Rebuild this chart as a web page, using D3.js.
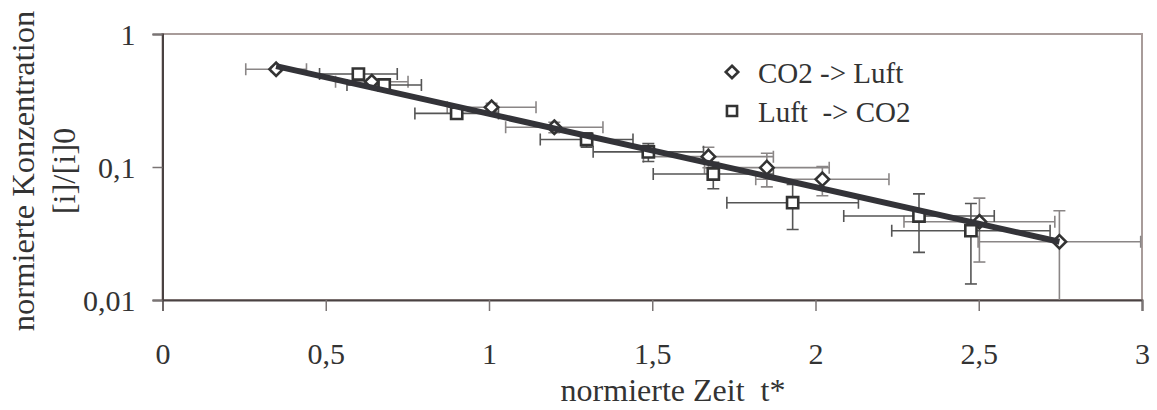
<!DOCTYPE html>
<html>
<head>
<meta charset="utf-8">
<script src="https://cdn.jsdelivr.net/npm/d3@7"></script>
<style>
  html, body { margin: 0; padding: 0; background: #fff; }
  svg { display: block; }
  text { font-family: "Liberation Serif", "Times New Roman", serif; fill: #333; }
</style>
</head>
<body>
<svg id="chart" width="1157" height="410"></svg>
<script>
// CO2 -> Luft (diamonds)
const tCO2    = [0.348, 0.641, 1.008, 1.200, 1.672, 1.851, 2.021, 2.502, 2.747];
const cCO2    = [0.543, 0.438, 0.281, 0.199, 0.1196, 0.0989, 0.0808, 0.0388, 0.0274];
const tErrCO2 = [0.093, 0.111, 0.136, 0.149, 0.199, 0.191, 0.204, 0.231, 0.249];
const cErrCO2 = [0.02, 0.02, 0.02, 0.018, 0.021, 0.028, 0.02, 0.0195, 0.0195];

// Luft -> CO2 (squares)
const tLuft    = [0.600, 0.679, 0.901, 1.299, 1.488, 1.687, 1.930, 2.317, 2.476];
const cLuft    = [0.500, 0.414, 0.253, 0.161, 0.130, 0.0886, 0.0539, 0.0428, 0.0332];
const tErrLuft = [0.119, 0.114, 0.128, 0.142, 0.169, 0.184, 0.2015, 0.2305, 0.2425];
const cErrLuft = [0.02, 0.02, 0.02, 0.02, 0.02, 0.02, 0.02, 0.02, 0.02];

// exponential fit, drawn between its two end points
const fitT = [0.348, 2.747];
const fitC = [0.574, 0.0274];

// axis ticks
const xTicks = [0, 0.5, 1, 1.5, 2, 2.5, 3];
const xTickLabels = ["0", "0,5", "1", "1,5", "2", "2,5", "3"];
const yTicks = [1, 0.1, 0.01];
const yTickLabels = ["1", "0,1", "0,01"];

const legendLabels = ["CO2 -> Luft", "Luft  -> CO2"];
const xTitle = "normierte Zeit  t*";
const yTitle = ["normierte Konzentration", "[i]/[i]0"];

const svg = d3.select("#chart");
const L = 162.5, R = 1142, T = 34, B = 300;

const x = d3.scaleLinear().domain([0, 3]).range([L, R]);
const y = d3.scaleLog().domain([0.01, 1]).range([B, T]);

const markColor = "#333";

// plot frame
svg.append("rect")
  .attr("x", L).attr("y", T).attr("width", R - L).attr("height", B - T)
  .attr("fill", "#fff").attr("stroke", "#a89c9a").attr("stroke-width", 2);

svg.append("clipPath").attr("id", "plotClip")
  .append("rect").attr("x", L).attr("y", T).attr("width", R - L).attr("height", B - T);

// axes
const xAxis = svg.append("g").attr("transform", `translate(0,${B})`)
  .call(d3.axisBottom(x).tickValues(xTicks).tickSize(11).tickPadding(32)
    .tickFormat((d, i) => xTickLabels[i]));
const yAxis = svg.append("g").attr("transform", `translate(${L},0)`)
  .call(d3.axisLeft(y).tickValues(yTicks).tickSize(10).tickPadding(17)
    .tickFormat((d, i) => yTickLabels[i]));

[xAxis, yAxis].forEach(g => {
  g.select(".domain").attr("stroke", "#4a4242").attr("stroke-width", 2);
  g.selectAll(".tick line").attr("stroke", "#7a7474").attr("stroke-width", 1.5);
  g.selectAll(".tick text")
    .style("font-family", '"Liberation Serif", serif')
    .style("font-size", "30px").attr("fill", "#333");
});
yAxis.selectAll(".tick text").attr("dy", "0.34em");

// error bars
function errorBars(ts, cs, te, ce, color) {
  const g = svg.append("g").attr("clip-path", "url(#plotClip)")
    .attr("stroke", color).attr("stroke-width", 1.6).attr("fill", "none");
  const cap = 6;
  ts.forEach((t, i) => {
    const px = x(t), py = y(cs[i]);
    const x0 = x(t - te[i]), x1 = x(t + te[i]);
    const lo = Math.max(cs[i] - ce[i], 0.001);
    const y0 = y(cs[i] + ce[i]), y1 = y(lo);
    g.append("line").attr("x1", x0).attr("x2", x1).attr("y1", py).attr("y2", py);
    g.append("line").attr("x1", x0).attr("x2", x0).attr("y1", py - cap).attr("y2", py + cap);
    g.append("line").attr("x1", x1).attr("x2", x1).attr("y1", py - cap).attr("y2", py + cap);
    g.append("line").attr("x1", px).attr("x2", px).attr("y1", y0).attr("y2", y1);
    g.append("line").attr("x1", px - cap).attr("x2", px + cap).attr("y1", y0).attr("y2", y0);
    g.append("line").attr("x1", px - cap).attr("x2", px + cap).attr("y1", y1).attr("y2", y1);
  });
}
errorBars(tCO2, cCO2, tErrCO2, cErrCO2, "#8a8686");
errorBars(tLuft, cLuft, tErrLuft, cErrLuft, "#555");

// markers
const diamond = d3.symbol().type(d3.symbolDiamond2).size(115);
const square = d3.symbol().type(d3.symbolSquare2).size(160);

svg.append("g").selectAll("path").data(tCO2).join("path")
  .attr("d", diamond)
  .attr("transform", (d, i) => `translate(${x(d)},${y(cCO2[i])})`)
  .attr("fill", "#fff").attr("stroke", markColor).attr("stroke-width", 2.6);

svg.append("g").selectAll("path").data(tLuft).join("path")
  .attr("d", square)
  .attr("transform", (d, i) => `translate(${x(d)},${y(cLuft[i])})`)
  .attr("fill", "#fff").attr("stroke", markColor).attr("stroke-width", 2.6);

// fit line
svg.append("path")
  .datum(fitT.map((t, i) => [t, fitC[i]]))
  .attr("d", d3.line().x(d => x(d[0])).y(d => y(d[1])))
  .attr("stroke", "#333338").attr("stroke-width", 6).attr("fill", "none");

// legend
const leg = svg.append("g");
const legY = [72, 111];
leg.append("path").attr("d", d3.symbol().type(d3.symbolDiamond2).size(100))
  .attr("transform", `translate(732,${legY[0]})`)
  .attr("fill", "#fff").attr("stroke", markColor).attr("stroke-width", 2.6);
leg.append("path").attr("d", d3.symbol().type(d3.symbolSquare2).size(130))
  .attr("transform", `translate(732,${legY[1]})`)
  .attr("fill", "#fff").attr("stroke", markColor).attr("stroke-width", 2.6);
legendLabels.forEach((s, i) => {
  leg.append("text").attr("x", 758).attr("y", legY[i] + 11)
    .attr("font-size", 29).attr("xml:space", "preserve").text(s);
});

// axis titles
svg.append("text").attr("x", 673).attr("y", 401).attr("text-anchor", "middle")
  .attr("font-size", 32).attr("xml:space", "preserve").text(xTitle);

const yt = svg.append("g").attr("transform", "translate(0,171) rotate(-90)");
yt.append("text").attr("x", 0).attr("y", 33.5).attr("text-anchor", "middle")
  .attr("font-size", 32.5).text(yTitle[0]);
yt.append("text").attr("x", 0).attr("y", 75).attr("text-anchor", "middle")
  .attr("font-size", 32.5).text(yTitle[1]);
</script>
</body>
</html>
